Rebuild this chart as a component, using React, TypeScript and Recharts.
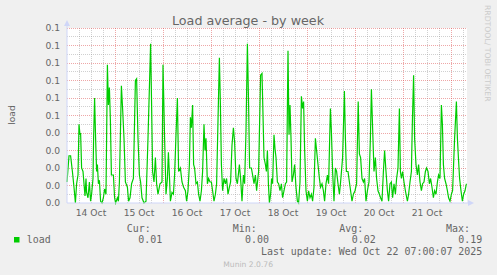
import { LineChart, Line, XAxis, YAxis, CartesianGrid, ReferenceLine } from 'recharts'

// hours since 14 Oct 00:00
const hours = [
  0, 1.0, 1.8, 2.7, 3.5, 4.2, 4.8, 5.5, 6.0, 6.5, 6.8, 7.3, 8.0, 8.5, 9.0, 9.5, 9.8, 10.5, 11.2, 11.8,
  12.3, 13.0, 13.3, 13.8, 14.3, 14.8, 15.2, 15.7, 16.2, 16.8, 17.5, 18.2, 18.8, 19.5, 20.2, 20.7, 21.2, 21.7, 22.2, 23.2,
  23.8, 24.3, 25.2, 25.7, 26.2, 27.2, 27.8, 28.5, 29.2, 30.2, 30.8, 31.5, 32.3, 33.2, 34.2, 34.8, 35.5, 36.2, 36.8, 37.5,
  38.5, 39.5, 40.5, 41.2, 41.8, 42.3, 42.8, 43.5, 44.2, 44.8, 45.5, 46.5, 47.5,
  48.0, 48.8, 49.5, 50.2, 50.7, 51.2, 51.7, 52.5, 53.2, 53.8, 54.5, 55.2, 55.8, 56.7, 57.5, 58.3, 59.2, 59.8, 60.5, 61.2,
  61.7, 62.2, 62.8, 63.3, 63.8, 64.5, 65.2, 65.8, 66.5, 67.2, 67.8, 68.5, 69.0, 69.5, 70.2, 70.8, 71.5, 72.2, 72.8, 73.5,
  74.2, 74.8, 75.5, 76.2, 76.7, 77.2, 77.8, 78.5, 79.2, 79.8, 80.5, 81.2, 81.8, 82.5, 83.2, 83.8, 84.5, 85.2, 86.2, 86.8,
  87.5, 88.2, 88.8, 89.5, 90.2, 90.8, 91.3, 92.2, 92.8, 93.5, 94.2, 94.8, 95.8, 96.8, 97.5,
  97.8, 98.5, 99.2, 99.7, 100.2, 100.7, 101.2, 101.8, 102.3, 102.8, 103.5, 104.0, 104.5, 105.2, 105.8, 106.5, 107.2, 107.8, 108.5, 109.2,
  109.8, 110.5, 111.0, 111.5, 112.0, 112.5, 113.2, 113.8, 114.5, 115.2, 115.8, 116.5, 117.2, 117.8, 118.3, 118.8, 119.5, 120.2, 120.8, 121.5,
  122.2, 122.8, 123.5, 124.2, 124.8, 125.5, 126.2, 126.8, 127.5, 128.2, 128.8, 129.5, 130.2, 130.8, 131.7, 132.2, 132.8, 133.5, 134.2, 134.8,
  135.5, 136.2, 136.8, 137.8, 138.7, 139.2, 139.7, 140.5, 141.2, 141.8, 142.5, 143.2, 144.0, 144.8, 145.6, 146.2, 146.8,
  147.5, 148.2, 148.8, 149.5, 150.2, 151.0, 151.7, 152.2, 152.8, 153.5, 154.2, 154.8, 155.5, 156.2, 156.8, 157.5, 158.2, 158.8, 159.5, 160.2,
  160.8, 161.5, 162.2, 162.8, 163.5, 164.2, 164.8, 165.5, 166.2, 166.7, 167.2, 167.8, 168.5, 169.2, 170.2, 170.8, 171.5, 172.2, 172.7, 173.3,
  173.8, 174.5, 175.2, 175.8, 176.5, 177.2, 177.8, 178.5, 179.2, 179.8, 180.5, 181.2, 181.8, 182.5, 183.2, 183.8, 184.5, 185.2, 185.8, 186.5,
  187.2, 187.7, 188.2, 188.8, 189.5, 190.2, 190.8, 191.5, 192.2, 192.8, 193.8, 194.7, 195.2, 195.7, 196.3, 197.0, 197.7, 198.3, 199.0, 199.7,
]

const load = [
  0.012, 0.027, 0.027, 0.018, 0.009, 0.0, 0.011, 0.016, 0.045, 0.039, 0.04, 0.02, 0.018, 0.011, 0.004, 0.014, 0.006, 0.003, 0.012, 0.001,
  0.005, 0.014, 0.037, 0.06, 0.037, 0.018, 0.022, 0.011, 0.013, 0.001, 0.0, 0.003, 0.008, 0.005, 0.079, 0.056, 0.066, 0.047, 0.016, 0.016,
  0.003, 0.0, 0.003, 0.001, 0.012, 0.067, 0.054, 0.037, 0.012, 0.009, 0.001, 0.003, 0.011, 0.014, 0.07, 0.071, 0.037, 0.016, 0.012, 0.003,
  0.0, 0.001, 0.037, 0.066, 0.091, 0.056, 0.018, 0.012, 0.026, 0.011, 0.005, 0.011, 0.012,
  0.079, 0.037, 0.005, 0.014, 0.029, 0.016, 0.001, 0.006, 0.005, 0.016, 0.039, 0.06, 0.018, 0.02, 0.012, 0.009, 0.007, 0.001, 0.007, 0.022,
  0.049, 0.043, 0.056, 0.022, 0.02, 0.011, 0.012, 0.005, 0.001, 0.007, 0.018, 0.045, 0.03, 0.037, 0.011, 0.014, 0.012, 0.012, 0.007, 0.001,
  0.005, 0.011, 0.047, 0.083, 0.056, 0.022, 0.007, 0.014, 0.011, 0.014, 0.005, 0.009, 0.012, 0.033, 0.043, 0.035, 0.014, 0.011, 0.022, 0.014,
  0.001, 0.016, 0.011, 0.041, 0.091, 0.056, 0.02, 0.02, 0.016, 0.011, 0.016, 0.007, 0.018, 0.073, 0.074,
  0.06, 0.026, 0.022, 0.018, 0.03, 0.011, 0.0, 0.005, 0.014, 0.011, 0.039, 0.031, 0.026, 0.012, 0.011, 0.007, 0.011, 0.003, 0.007, 0.011,
  0.012, 0.087, 0.039, 0.056, 0.037, 0.012, 0.016, 0.022, 0.009, 0.001, 0.0, 0.012, 0.061, 0.054, 0.058, 0.031, 0.007, 0.001, 0.007, 0.003,
  0.005, 0.001, 0.009, 0.037, 0.03, 0.022, 0.014, 0.009, 0.011, 0.007, 0.001, 0.011, 0.016, 0.011, 0.054, 0.041, 0.018, 0.001, 0.02, 0.018,
  0.011, 0.005, 0.012, 0.026, 0.064, 0.037, 0.018, 0.018, 0.012, 0.007, 0.001, 0.005, 0.007, 0.011, 0.058, 0.028, 0.026,
  0.014, 0.012, 0.014, 0.001, 0.007, 0.012, 0.037, 0.065, 0.043, 0.018, 0.026, 0.014, 0.007, 0.005, 0.003, 0.001, 0.018, 0.03, 0.018, 0.007,
  0.001, 0.011, 0.012, 0.003, 0.011, 0.005, 0.014, 0.02, 0.054, 0.018, 0.014, 0.018, 0.012, 0.007, 0.001, 0.005, 0.012, 0.018, 0.047, 0.073,
  0.037, 0.022, 0.016, 0.022, 0.012, 0.007, 0.011, 0.012, 0.018, 0.02, 0.018, 0.011, 0.014, 0.009, 0.003, 0.007, 0.005, 0.012, 0.016, 0.014,
  0.056, 0.045, 0.022, 0.014, 0.011, 0.007, 0.003, 0.001, 0.005, 0.007, 0.037, 0.058, 0.037, 0.026, 0.014, 0.007, 0.001, 0.005, 0.007, 0.011,
]

const dayTicks = [12, 36, 60, 84, 108, 132, 156, 180]
const dayLabels = ['14 Oct', '15 Oct', '16 Oct', '17 Oct', '18 Oct', '19 Oct', '20 Oct', '21 Oct']
const yTicks = [0, 0.01, 0.02, 0.03, 0.04, 0.05, 0.06, 0.07, 0.08, 0.09, 0.1]
const yTickLabels = ['0.0', '0.0', '0.0', '0.0', '0.0', '0.1', '0.1', '0.1', '0.1', '0.1', '0.1']

const statHeaders = ['Cur:', 'Min:', 'Avg:', 'Max:']
const statValues = ['0.01', '0.00', '0.02', '0.19']

const data = hours.map((h, i) => ({ h, load: load[i] }))

// grid positions (not data)
const majorX = [24, 48, 72, 96, 120, 144, 168, 192]
const minorX = Array.from({ length: 34 }, (_, i) => i * 6).filter((v) => v % 24 !== 0)
const minorY = yTicks.slice(0, -1).map((v) => v + 0.005)

const FONT = "'DejaVu Sans', sans-serif"
const MONO = "'DejaVu Sans Mono', monospace"
const TEXT = '#666666'
const AXIS = '#cfd6f8'
const GRID = 'rgba(150,150,150,0.45)'
const MGRID = 'rgba(222,79,79,0.5)'

export default function App() {
  return (
    <div
      style={{
        position: 'absolute',
        left: 0,
        top: 0,
        width: 497,
        height: 275,
        background: '#f0f0f0',
        fontFamily: FONT,
      }}
    >
      <LineChart width={497} height={275} data={data} margin={{ top: 28, right: 30, bottom: 42, left: 7 }}>
        <CartesianGrid horizontal={false} vertical={false} fill="#ffffff" />
        {minorY.map((v) => (
          <ReferenceLine key={`my${v}`} y={v} stroke={GRID} strokeDasharray="1 1" shapeRendering="crispEdges" />
        ))}
        {minorX.map((v) => (
          <ReferenceLine key={`mx${v}`} x={v} stroke={GRID} strokeDasharray="1 1" shapeRendering="crispEdges" />
        ))}
        {yTicks.slice(1).map((v) => (
          <ReferenceLine key={`Y${v}`} y={v} stroke={MGRID} strokeDasharray="1 1" shapeRendering="crispEdges" />
        ))}
        {majorX.map((v) => (
          <ReferenceLine key={`X${v}`} x={v} stroke={MGRID} strokeDasharray="1 1" shapeRendering="crispEdges" />
        ))}
        <XAxis
          dataKey="h"
          type="number"
          domain={[0, 200]}
          ticks={dayTicks}
          interval={0}
          height={30}
          tickLine={false}
          tickSize={4}
          tickMargin={2}
          axisLine={{ stroke: AXIS }}
          tick={{ fontSize: 9.2, fill: TEXT, fontFamily: FONT }}
          tickFormatter={(v) => dayLabels[dayTicks.indexOf(v)]}
        />
        <YAxis
          type="number"
          domain={[0, 0.1]}
          ticks={yTicks}
          interval={0}
          width={60}
          tickLine={false}
          tickSize={5}
          tickMargin={2}
          axisLine={{ stroke: AXIS }}
          tick={{ fontSize: 9.2, fill: TEXT, fontFamily: FONT }}
          tickFormatter={(v) => yTickLabels[yTicks.indexOf(v)]}
        />
        <Line
          type="linear"
          dataKey="load"
          stroke="#00cc00"
          strokeWidth={1.2}
          dot={false}
          activeDot={false}
          isAnimationActive={false}
        />
      </LineChart>

      <svg
        width={497}
        height={275}
        style={{ position: 'absolute', left: 0, top: 0, pointerEvents: 'none' }}
      >
        {/* axis arrows */}
        <line x1={67} y1={28} x2={67} y2={23} stroke={AXIS} />
        <polygon points="64,26 70,26 67,20" fill={AXIS} />
        <line x1={467} y1={203} x2={470} y2={203} stroke={AXIS} />
        <polygon points="468,200 468,206 474,203" fill={AXIS} />

        <text x={248} y={25} textAnchor="middle" fontSize={12.7} fill={TEXT} fontFamily={FONT}>
          Load average - by week
        </text>
        <text transform="translate(15,115) rotate(-90)" textAnchor="middle" fontSize={9.2} fill={TEXT} fontFamily={FONT}>
          load
        </text>
        <text transform="translate(485,5) rotate(90)" fontSize={7.7} fill="#cccccc" fontFamily={FONT}>
          RRDTOOL/ TOBI OETIKER
        </text>

        <g fontFamily={MONO} fontSize={9.95} fill={TEXT}>
          {statHeaders.map((s, i) => (
            <text key={s} x={[150.7, 256.7, 363.3, 470][i]} y={232} textAnchor="end">
              {s}
            </text>
          ))}
          <rect x={14} y={237} width={5.5} height={5.5} fill="#00cc00" />
          <text x={26.7} y={243}>load</text>
          {statValues.map((s, i) => (
            <text key={i} x={[162.3, 269, 375.7, 482.3][i]} y={243} textAnchor="end" style={{ whiteSpace: 'pre' }}>
              {s}
            </text>
          ))}
          <text x={482.3} y={254.5} textAnchor="end" style={{ whiteSpace: 'pre' }}>
            Last update: Wed Oct 22 07:00:07 2025
          </text>
        </g>
        <text x={223.3} y={267} fontSize={7.6} fill="#bbbbbb" fontFamily={FONT}>
          Munin 2.0.76
        </text>
      </svg>
    </div>
  )
}
